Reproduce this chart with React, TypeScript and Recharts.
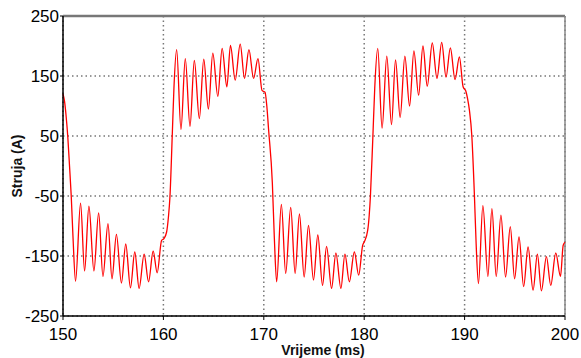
import React from "react";
import {
  LineChart,
  Line,
  XAxis,
  YAxis,
  CartesianGrid,
  ReferenceLine,
} from "recharts";

// vrijeme (ms) i struja (A), očitano s grafa, po poluperiodima
const vrijemeA = [
  150.0, 150.15, 150.3, 150.48, 150.65, 150.82, 151.0, 151.25, 151.75, 152.15,
  152.58, 153.08, 153.55, 153.98, 154.48, 154.88, 155.32, 155.82, 156.25,
  156.72, 157.15, 157.58, 158.08, 158.52, 158.98, 159.38, 159.82, 160.05,
  160.32, 160.5, 160.65,
];
const strujaA = [
  120, 108, 85, 48, 0, -50, -120, -192, -62, -175, -67, -175, -78, -184, -96,
  -188, -114, -195, -130, -203, -143, -204, -147, -193, -142, -178, -124, -121,
  -110, -85, -52,
];

const vrijemeB = [
  160.88, 161.05, 161.32, 161.75, 162.18, 162.65, 163.08, 163.58, 164.02,
  164.48, 164.92, 165.42, 165.85, 166.32, 166.68, 167.15, 167.65, 168.08,
  168.52, 168.98, 169.42, 169.82, 170.12, 170.3, 170.48, 170.85, 171.05,
];
const strujaB = [
  50, 130, 194, 61, 179, 66, 176, 79, 178, 95, 188, 116, 196, 132, 201, 143,
  203, 146, 194, 146, 179, 126, 123, 100, 60, -28, -120,
];

const vrijemeC = [
  171.28, 171.75, 172.18, 172.68, 173.12, 173.55, 174.02, 174.45, 174.95,
  175.38, 175.85, 176.25, 176.75, 177.18, 177.68, 178.08, 178.52, 179.02,
  179.45, 179.85, 180.02, 180.35, 180.5, 180.62,
];
const strujaC = [
  -193, -64, -179, -69, -179, -80, -185, -99, -190, -115, -199, -134, -204,
  -145, -204, -147, -193, -143, -182, -132, -126, -107, -82, -50,
];

const vrijemeD = [
  180.85, 181.05, 181.35, 181.78, 182.25, 182.72, 183.12, 183.58, 184.05,
  184.52, 184.95, 185.42, 185.85, 186.28, 186.78, 187.25, 187.72, 188.15,
  188.58, 189.05, 189.48, 189.85, 190.12, 190.3, 190.48, 190.72, 190.98,
  191.15,
];
const strujaD = [
  43, 130, 196, 63, 183, 69, 177, 81, 183, 100, 192, 118, 200, 133, 205, 146,
  206, 148, 197, 144, 182, 132, 125, 112, 93, 50, -50, -130,
];

const vrijemeE = [
  191.38, 191.82, 192.32, 192.72, 193.15, 193.62, 194.08, 194.55, 194.98,
  195.42, 195.88, 196.32, 196.82, 197.25, 197.65, 198.15, 198.58, 199.08,
  199.55, 199.82, 200.0,
];
const strujaE = [
  -196, -66, -184, -71, -184, -82, -185, -101, -188, -118, -201, -135, -207,
  -147, -208, -151, -199, -145, -184, -132, -127,
];

const xTicks = [150, 160, 170, 180, 190, 200];
const yTicks = [-250, -150, -50, 50, 150, 250];

const vrijeme = [...vrijemeA, ...vrijemeB, ...vrijemeC, ...vrijemeD, ...vrijemeE];
const struja = [...strujaA, ...strujaB, ...strujaC, ...strujaD, ...strujaE];
const data = vrijeme.map((t, i) => ({ t, i: struja[i] }));

const font = "'Liberation Sans', Arial, sans-serif";

export default function App() {
  return (
    <div style={{ position: "absolute", left: 0, top: 0, background: "#fff" }}>
      <LineChart
        width={581}
        height={358}
        data={data}
        margin={{ top: 16, right: 16, left: 0, bottom: 0 }}
        style={{ fontFamily: font }}
      >
        <CartesianGrid
          stroke="#777"
          strokeWidth={1.5}
          strokeDasharray="1.5 3"
        />
        <ReferenceLine y={250} stroke="#777" strokeWidth={2.5} />
        <ReferenceLine x={200} stroke="#888" strokeWidth={1.5} />
        <XAxis
          dataKey="t"
          type="number"
          domain={[150, 200]}
          ticks={xTicks}
          height={42}
          tickSize={4}
          tickMargin={8}
          axisLine={{ stroke: "#000", strokeWidth: 1.5 }}
          tickLine={{ stroke: "#000" }}
          tick={{ fontSize: 17, fill: "#000", fontFamily: font }}
          label={{
            content: ({ viewBox }: any) => (
              <text
                x={viewBox.x + viewBox.width / 2 + 9}
                y={355}
                textAnchor="middle"
                fontSize={14}
                fontWeight="bold"
                fill="#111"
                fontFamily={font}
              >
                Vrijeme (ms)
              </text>
            ),
          }}
        />
        <YAxis
          type="number"
          domain={[-250, 250]}
          ticks={yTicks}
          width={63}
          tickSize={3}
          tickMargin={1}
          axisLine={{ stroke: "#000", strokeWidth: 1.5 }}
          tickLine={{ stroke: "#000" }}
          tick={{ fontSize: 17, fill: "#000", fontFamily: font }}
          label={{
            content: ({ viewBox }: any) => {
              const cy = viewBox.y + viewBox.height / 2;
              return (
                <text
                  x={17}
                  y={cy}
                  transform={`rotate(-90 17 ${cy})`}
                  textAnchor="middle"
                  dominantBaseline="central"
                  fontSize={14}
                  fontWeight="bold"
                  fill="#111"
                  fontFamily={font}
                >
                  Struja (A)
                </text>
              );
            },
          }}
        />
        <Line
          type="monotone"
          dataKey="i"
          stroke="#ff0000"
          strokeWidth={1.3}
          dot={false}
          isAnimationActive={false}
        />
      </LineChart>
    </div>
  );
}
